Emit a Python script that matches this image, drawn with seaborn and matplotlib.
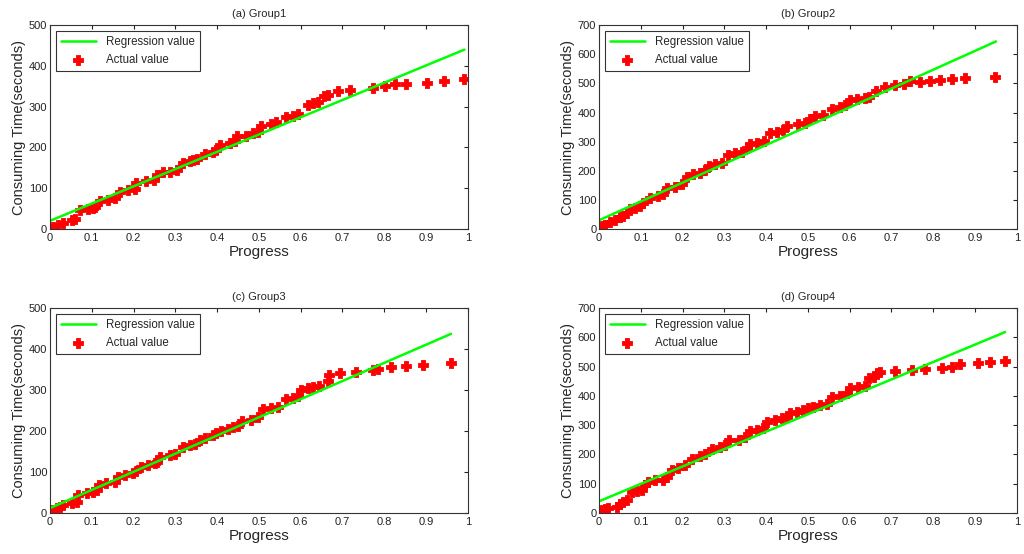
import numpy as np
import pandas as pd
import matplotlib
matplotlib.use("Agg")
import matplotlib.pyplot as plt
import seaborn as sns

sns.set_style("white")
plt.rcParams["font.family"] = ["Liberation Sans", "DejaVu Sans"]

# --- data ---
g1_x = [0.002, 0.008, 0.02, 0.032, 0.052, 0.06, 0.072, 0.092, 0.102, 0.108, 0.12, 0.14, 0.156,
        0.167, 0.187, 0.203, 0.207, 0.231, 0.25, 0.255, 0.271, 0.287, 0.303, 0.319, 0.335, 0.343,
        0.351, 0.371, 0.39, 0.397, 0.406, 0.43, 0.442, 0.448, 0.47, 0.486, 0.498, 0.504, 0.53,
        0.542, 0.564, 0.582, 0.594, 0.618, 0.63, 0.641, 0.657, 0.665, 0.689, 0.717, 0.773, 0.801,
        0.825, 0.853, 0.903, 0.942, 0.992]
g1_y = [0, 6, 10, 15, 21, 24, 46, 49, 51, 55, 68, 72, 76, 92, 95, 99, 113, 117, 121, 133, 139,
        141, 145, 162, 166, 170, 171, 184, 190, 194, 206, 210, 215, 227, 228, 235, 239, 253, 258,
        263, 274, 277, 282, 304, 308, 312, 326, 329, 339, 341, 345, 351, 355, 356, 359, 363, 367]
g1_reg_x = [0, 0.992]
g1_reg_y = [20, 440]

g2_x = [0, 0.006, 0.014, 0.026, 0.038, 0.05, 0.058, 0.066, 0.074, 0.086, 0.098, 0.106, 0.122,
        0.142, 0.154, 0.162, 0.182, 0.198, 0.21, 0.226, 0.242, 0.254, 0.262, 0.278, 0.294, 0.308,
        0.325, 0.342, 0.354, 0.362, 0.378, 0.394, 0.41, 0.425, 0.441, 0.449, 0.476, 0.493, 0.505,
        0.517, 0.537, 0.557, 0.577, 0.589, 0.601, 0.617, 0.637, 0.645, 0.662, 0.685, 0.709, 0.729,
        0.745, 0.769, 0.792, 0.816, 0.846, 0.876, 0.948]
g2_y = [0, 9, 15, 23, 32, 40, 46, 55, 68, 72, 80, 89, 106, 112, 121, 140, 146, 155, 180, 189,
        193, 203, 217, 223, 228, 254, 260, 265, 277, 291, 296, 302, 328, 333, 339, 353, 359, 364,
        379, 387, 390, 413, 419, 425, 442, 446, 450, 453, 473, 489, 493, 499, 508, 506, 508, 512,
        516, 519, 521]
g2_reg_x = [0, 0.95]
g2_reg_y = [30, 644]

g3_x = [0, 0.008, 0.016, 0.024, 0.032, 0.052, 0.064, 0.068, 0.088, 0.104, 0.112, 0.118, 0.135,
        0.155, 0.163, 0.179, 0.199, 0.207, 0.219, 0.235, 0.251, 0.255, 0.263, 0.287, 0.299, 0.319,
        0.335, 0.347, 0.359, 0.371, 0.39, 0.398, 0.41, 0.426, 0.438, 0.45, 0.46, 0.482, 0.498,
        0.51, 0.53, 0.546, 0.566, 0.582, 0.594, 0.602, 0.618, 0.63, 0.645, 0.665, 0.669, 0.693,
        0.733, 0.773, 0.785, 0.817, 0.851, 0.892, 0.96]
g3_y = [0, 7, 11, 15, 19, 24, 27, 43, 49, 51, 55, 68, 72, 76, 88, 92, 98, 103, 113, 117, 121,
        125, 137, 141, 145, 162, 166, 168, 178, 184, 190, 196, 201, 206, 209, 212, 225, 227, 233,
        253, 257, 259, 277, 280, 285, 300, 304, 307, 310, 323, 337, 341, 343, 349, 352, 356, 359,
        361, 365]
g3_reg_x = [0, 0.96]
g3_reg_y = [12, 437]

g4_x = [0, 0.006, 0.014, 0.022, 0.042, 0.05, 0.058, 0.066, 0.078, 0.09, 0.102, 0.11, 0.118,
        0.134, 0.154, 0.162, 0.174, 0.19, 0.206, 0.222, 0.242, 0.254, 0.27, 0.29, 0.302, 0.31,
        0.334, 0.35, 0.361, 0.377, 0.393, 0.401, 0.421, 0.437, 0.449, 0.457, 0.473, 0.489, 0.501,
        0.513, 0.529, 0.545, 0.557, 0.577, 0.593, 0.601, 0.621, 0.637, 0.646, 0.657, 0.665, 0.673,
        0.709, 0.749, 0.781, 0.821, 0.845, 0.864, 0.908, 0.936, 0.972]
g4_y = [0, 9, 15, 18, 21, 30, 38, 43, 72, 75, 80, 95, 106, 112, 114, 123, 148, 155, 163, 186,
        194, 201, 217, 226, 232, 249, 251, 258, 281, 285, 289, 312, 317, 323, 329, 343, 346, 352,
        357, 363, 369, 372, 395, 400, 409, 426, 432, 434, 460, 466, 477, 483, 486, 489, 491, 494,
        498, 509, 512, 514, 520]
g4_reg_x = [0, 0.972]
g4_reg_y = [40, 618]

groups = [
    ("(a) Group1", g1_x, g1_y, g1_reg_x, g1_reg_y, 500),
    ("(b) Group2", g2_x, g2_y, g2_reg_x, g2_reg_y, 700),
    ("(c) Group3", g3_x, g3_y, g3_reg_x, g3_reg_y, 500),
    ("(d) Group4", g4_x, g4_y, g4_reg_x, g4_reg_y, 700),
]

# axes boxes in figure fractions (left, bottom, width, height)
boxes = [
    (0.0488, 0.5866, 0.408, 0.368),
    (0.585, 0.5866, 0.408, 0.368),
    (0.0488, 0.074, 0.408, 0.370),
    (0.585, 0.074, 0.408, 0.370),
]

fig = plt.figure(figsize=(10.24, 5.54), dpi=100)

for (title, x, y, rx, ry, ymax), box in zip(groups, boxes):
    ax = fig.add_axes(box)
    reg = pd.DataFrame({"Progress": rx, "Time": ry})
    pts = pd.DataFrame({"Progress": x, "Time": y})
    sns.lineplot(data=reg, x="Progress", y="Time", color="#00ff00", lw=1.8,
                 label="Regression value", ax=ax)
    sns.scatterplot(data=pts, x="Progress", y="Time", color="red", marker="P",
                    s=44, edgecolor="red", linewidth=0.6, label="Actual value", ax=ax)

    ax.set_xlim(0, 1)
    ax.set_ylim(0, ymax)
    ax.set_xticks(np.arange(0, 1.01, 0.1))
    ax.set_xticklabels(["0"] + [f"{v:.1f}" for v in np.arange(0.1, 0.95, 0.1)] + ["1"])
    ax.set_yticks(np.arange(0, ymax + 1, 100))
    ax.tick_params(direction="in", length=3, width=0.8, top=True, right=True,
                   labelsize=8, pad=2, colors="#222222")
    ax.tick_params(axis="x", pad=3)
    for sp in ax.spines.values():
        sp.set_color("#333333")
        sp.set_linewidth(0.8)
    ax.set_title(title, fontsize=8, pad=6)
    ax.set_xlabel("Progress", fontsize=11, labelpad=1)
    ax.set_ylabel("Consuming Time(seconds)", fontsize=10.5, labelpad=2)

    leg = ax.legend(loc="upper left", fontsize=8.3, frameon=True, fancybox=False,
                    handlelength=3.0, borderaxespad=0.5, borderpad=0.45,
                    labelspacing=0.5, handletextpad=0.9)
    leg.get_frame().set_edgecolor("black")
    leg.get_frame().set_linewidth(0.8)

fig.savefig("out.png", dpi=100)
